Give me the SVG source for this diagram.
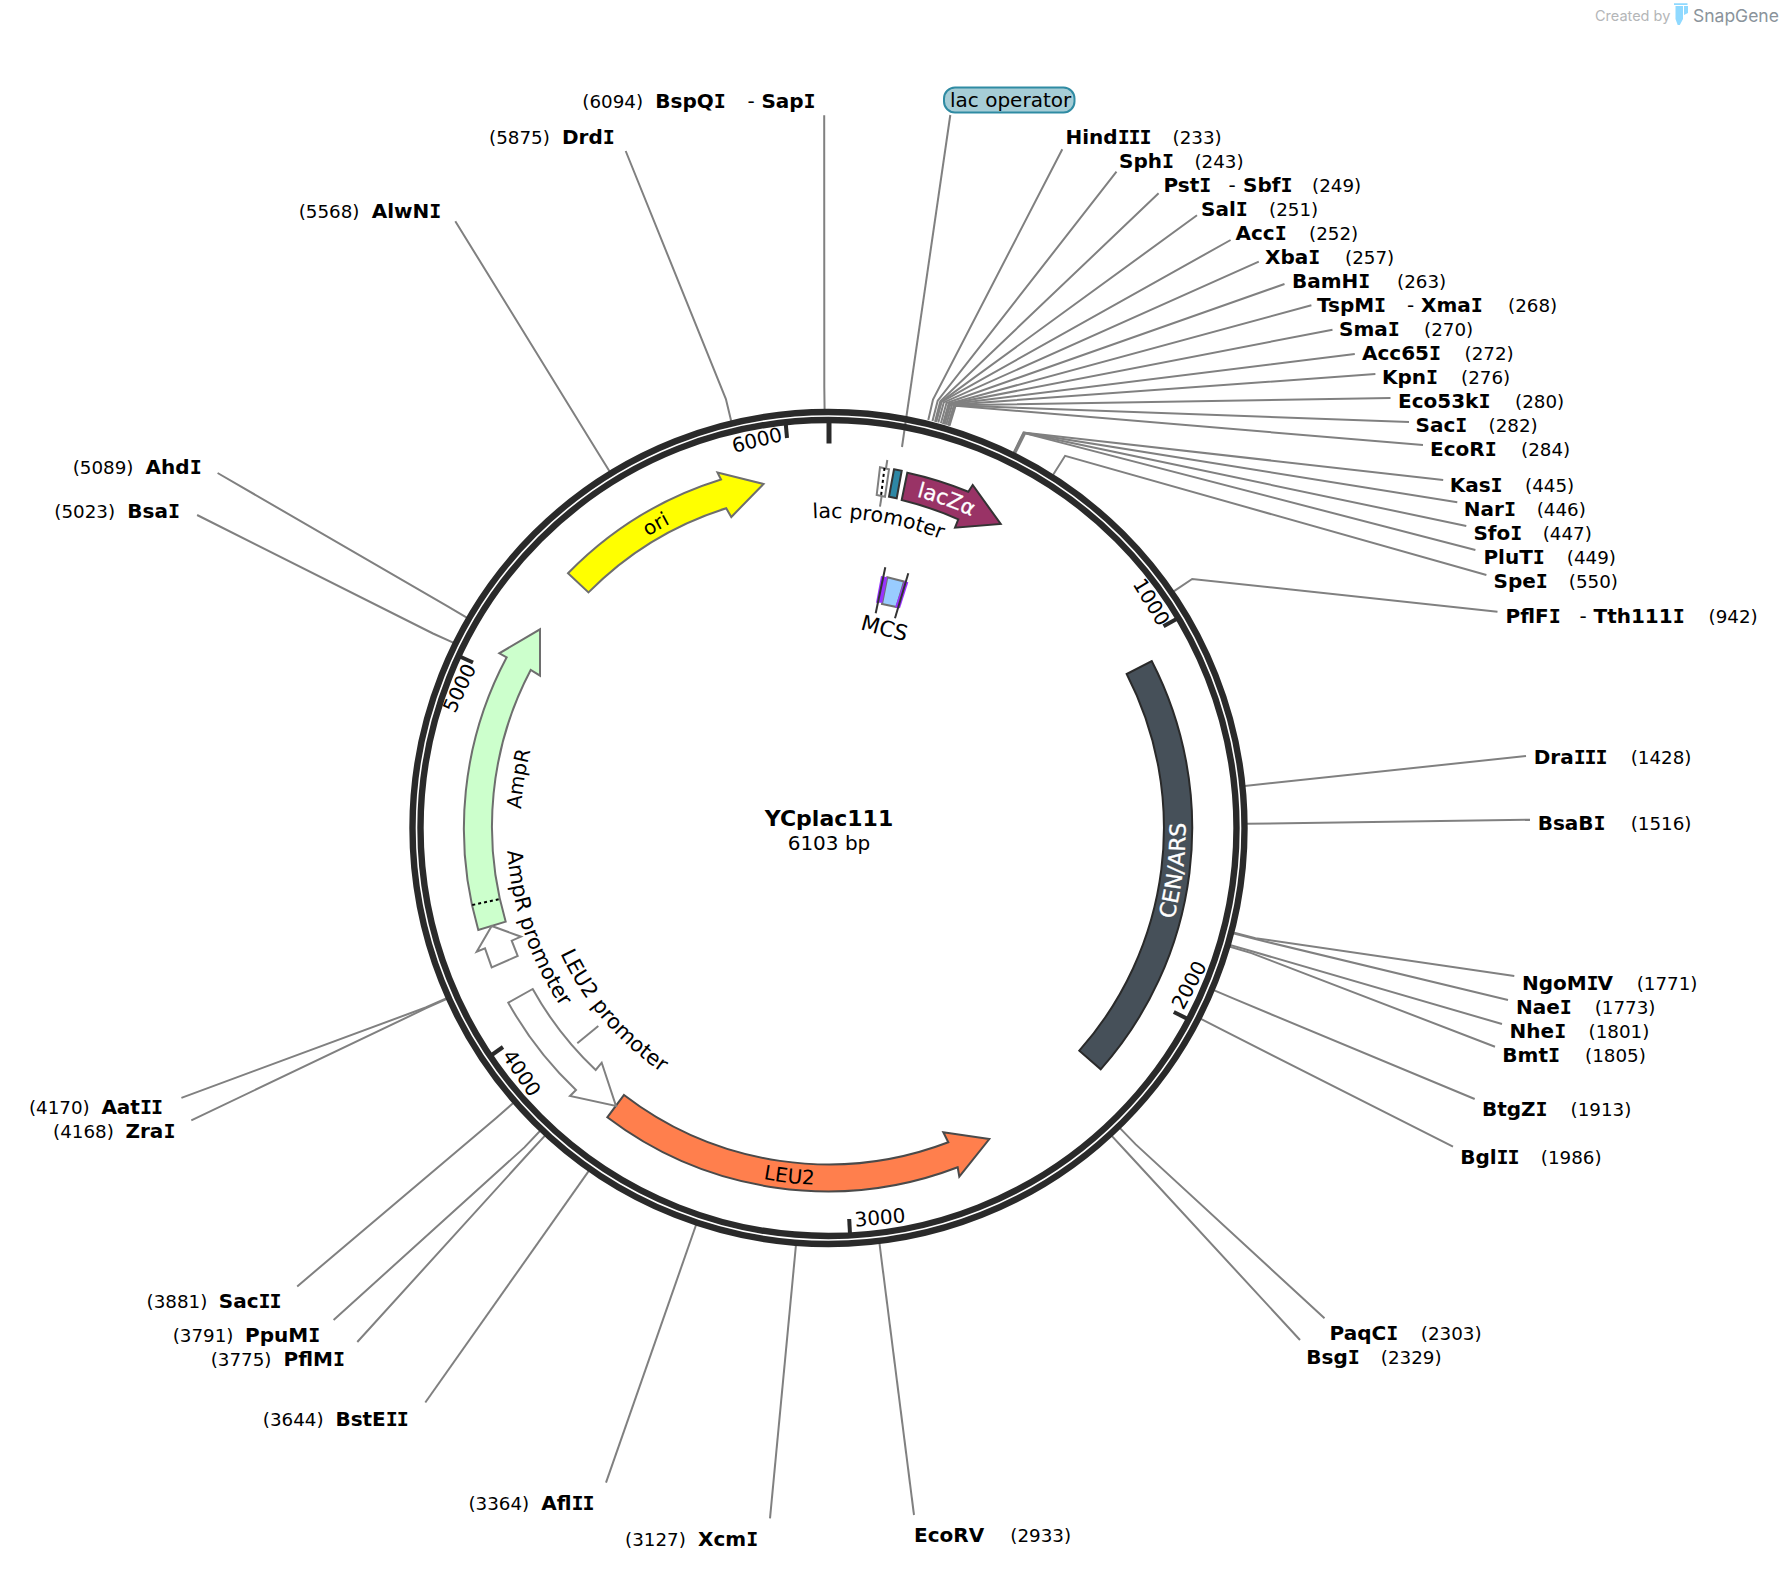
<svg xmlns="http://www.w3.org/2000/svg" width="1788" height="1572" viewBox="0 0 1788 1572">
<style>
text{font-family:"DejaVu Sans",sans-serif;font-size:20px;fill:#000}
.n{font-weight:bold;transform:translateX(-1px)}
.i{font-family:"DejaVu Sans Mono",monospace;font-weight:bold;letter-spacing:-1.1px}
.s{font-size:18.3px}
.c{fill:none;stroke:#808080;stroke-width:2}
.ring{fill:none;stroke:#2a2a2a;stroke-width:6.4}
.tick{stroke:#2a2a2a;stroke-width:4}
.m{text-anchor:middle}
.k{fill:#fff;stroke:#fff;stroke-width:.3px}
</style>
<defs>
<path id="a-lacprom" d="M722.5,536.7A310,310 0 0 1 1027.8,590.5"/>
<path id="a-lacz" d="M828.5,485A343,343 0 0 1 1049,565.3"/>
<path id="a-ori" d="M565.7,607.5A343,343 0 0 1 828.5,485"/>
<path id="a-ampr" d="M539.1,933.3A308,308 0 0 1 592.6,630"/>
<path id="a-ampp" d="M507.7,799.9A322,322 0 0 0 667.5,1106.9"/>
<path id="a-leup" d="M542.6,904.6A296,296 0 0 0 777.1,1119.5"/>
<path id="a-leu" d="M650,1137.2A357,357 0 0 0 1007,1137.2"/>
<path id="a-cen" d="M1102,1057.5A357,357 0 0 0 1102,598.5"/>
</defs>
<rect width="1788" height="1572" fill="#fff"/>
<g id="connectors">
<polyline class="c" points="902,447 950.3,115"/>
<polyline class="c" points="928.3,420 933,399.6 1062.3,149.3"/>
<polyline class="c" points="932.5,421.1 937.7,400.7 1116.5,171.7"/>
<polyline class="c" points="935,421.7 940.3,401.4 1158.6,193.3"/>
<polyline class="c" points="935.8,422 941.2,401.6 1197,215.3"/>
<polyline class="c" points="936.2,422.1 941.6,401.8 1230.6,240"/>
<polyline class="c" points="938.3,422.6 943.8,402.4 1258.8,261.7"/>
<polyline class="c" points="940.9,423.3 946.5,403.1 1284.5,284"/>
<polyline class="c" points="942.9,423.9 948.6,403.7 1311.4,305.3"/>
<polyline class="c" points="943.7,424.1 949.5,403.9 1332.5,329.7"/>
<polyline class="c" points="944.6,424.4 950.4,404.2 1354.8,354"/>
<polyline class="c" points="946.2,424.8 952.1,404.7 1375.4,374"/>
<polyline class="c" points="947.9,425.3 953.9,405.2 1390.5,398"/>
<polyline class="c" points="948.7,425.6 954.8,405.5 1409,422"/>
<polyline class="c" points="949.5,425.8 955.6,405.7 1423,445"/>
<polyline class="c" points="1013.4,453.1 1023.5,432.5 1443.2,480"/>
<polyline class="c" points="1013.8,453.3 1023.9,432.7 1457.3,502.3"/>
<polyline class="c" points="1014.1,453.5 1024.3,432.9 1466.3,526"/>
<polyline class="c" points="1014.9,453.9 1025.2,433.3 1475.4,550"/>
<polyline class="c" points="1052.8,475.2 1065.1,455.8 1486.4,575"/>
<polyline class="c" points="1173.3,591.7 1192.2,579 1497.5,611.7"/>
<polyline class="c" points="1244.5,786 1526,756"/>
<polyline class="c" points="1246.5,823.8 1530,819.7"/>
<polyline class="c" points="1233.3,932.5 1255.5,938.2 1514.3,976"/>
<polyline class="c" points="1233,933.3 1255.3,939.1 1508,1000"/>
<polyline class="c" points="1229.8,944.9 1251.9,951.3 1502,1024"/>
<polyline class="c" points="1229.3,946.5 1251.4,953.1 1495,1046.7"/>
<polyline class="c" points="1213.7,990.2 1234.9,999.2 1474.7,1099"/>
<polyline class="c" points="1200.4,1018.7 1220.9,1029.2 1453,1146.7"/>
<polyline class="c" points="1119.7,1127.9 1135.7,1144.4 1324.5,1318.3"/>
<polyline class="c" points="1111.5,1135.6 1127.1,1152.5 1300,1340"/>
<polyline class="c" points="879.4,1242.9 914,1515"/>
<polyline class="c" points="796,1244.7 770,1518.3"/>
<polyline class="c" points="696.2,1224.5 606,1482.7"/>
<polyline class="c" points="589,1170.6 425.3,1402.5"/>
<polyline class="c" points="545.2,1135.4 529.6,1152.3 357.3,1342"/>
<polyline class="c" points="540.2,1130.7 524.4,1147.4 333.6,1320"/>
<polyline class="c" points="513.5,1102.8 496.2,1117.9 297.2,1286.4"/>
<polyline class="c" points="446.7,998.2 425.7,1007.5 181.4,1097.9"/>
<polyline class="c" points="447,998.8 426.2,1008.2 191.3,1120.4"/>
<polyline class="c" points="453.8,642.8 433,633.5 197.1,515"/>
<polyline class="c" points="467.2,617.8 447.3,606.2 217.6,473"/>
<polyline class="c" points="609.8,471.8 597.7,452.2 455.3,221.2"/>
<polyline class="c" points="731.3,421.4 725.9,399.1 625.7,151"/>
<polyline class="c" points="824.6,410 824.3,387 824.2,115.2"/>
<polyline class="c" points="880,506.7 887.3,460"/>
<polyline class="c" points="577.3,1043.3 598.3,1026"/>
</g>
<g id="backbone">
<circle class="ring" cx="828.5" cy="828" r="416"/>
<circle class="ring" cx="828.5" cy="828" r="408"/>
<line class="tick" x1="829" y1="422" x2="829" y2="443.5" style="stroke-width:5"/>
<line class="tick" x1="1163.5" y1="626.3" x2="1176.5" y2="618.9"/>
<line class="tick" x1="1173.8" y1="1012" x2="1187" y2="1018.6"/>
<line class="tick" x1="849.2" y1="1219" x2="850" y2="1234"/>
<line class="tick" x1="503" y1="1047" x2="491" y2="1055.5"/>
<line class="tick" x1="473" y1="662.5" x2="460.3" y2="656.8"/>
<line class="tick" x1="787" y1="438" x2="785.7" y2="423"/>
<text class="m" x="757" y="447" transform="rotate(-14 757 440)">6000</text>
<text class="m" x="1151.4" y="609" transform="rotate(59 1151.4 602)">1000</text>
<text class="m" x="1189" y="992" transform="rotate(-62 1189 985)">2000</text>
<text class="m" x="880" y="1224.5" transform="rotate(-5 880 1217.5)">3000</text>
<text class="m" x="521.7" y="1080" transform="rotate(56 521.7 1073)">4000</text>
<text class="m" x="459.5" y="695" transform="rotate(-65 459.5 688)">5000</text>
</g>
<g id="feature-ori">
<path d="M568,573.3A364,364 0 0 1 721,479.5L717.5,472.6L763.5,484L731.3,517L726.2,508.2A336,336 0 0 0 588.5,592.4Z" fill="#ffff00" stroke="#6e6e6e" stroke-width="2"/>
<text class="m"><textPath href="#a-ori" startOffset="122">ori</textPath></text>
</g>
<g id="feature-lacZ">
<path d="M907.3,472.7A364,364 0 0 1 968.3,491.7L972.7,485L1000.7,524L955,527.7L958.3,519.3A336,336 0 0 0 901.7,500Z" fill="#993366" stroke="#333" stroke-width="2"/>
<text class="k" style="font-size:21px"><textPath href="#a-lacz" startOffset="89">lacZα</textPath></text>
</g>
<g id="feature-lac-promoter">
<path d="M880,467.3L889,469.3L885,496.7L876.7,495Z" fill="#fff" stroke="#808080" stroke-width="2"/>
<line x1="884.5" y1="468" x2="881" y2="496" stroke="#000" stroke-width="2" stroke-dasharray="3 3"/>
<text style="font-size:20.5px"><textPath href="#a-lacprom" startOffset="92.5">lac promoter</textPath></text>
</g>
<g id="feature-lac-operator">
<path d="M894,469.3L901.7,470.7L896.7,498.3L889,496.7Z" fill="#2d87a5" stroke="#333" stroke-width="2"/>
<rect x="944" y="87.5" width="130.5" height="25" rx="11" fill="#a6cdd6" stroke="#2f8ba3" stroke-width="2"/>
<text x="950" y="107">lac operator</text>
</g>
<g id="feature-MCS">
<path d="M887.3,577.3L904,581.5L896.5,607L882,604Z" fill="#99ccff" stroke="#707070" stroke-width="2"/>
<path d="M881,576L887.3,577.3L882.3,602.7L876,602.7Z" fill="#9933ff"/>
<path d="M904.3,581L908.3,582.3L900,608.3L895,607.3Z" fill="#9933ff"/>
<line x1="885.3" y1="567.3" x2="875.7" y2="613.3" stroke="#333" stroke-width="2"/>
<line x1="908.3" y1="573.3" x2="895" y2="618.3" stroke="#333" stroke-width="2"/>
<text class="m" x="884.5" y="635.5" transform="rotate(15 884.5 628)" style="font-size:21.5px">MCS</text>
</g>
<g id="feature-CEN-ARS">
<path d="M1151.7,661A364,364 0 0 1 1100.7,1069.3L1079.3,1050.7A336,336 0 0 0 1126.7,674Z" fill="#465059" stroke="#2a2a2a" stroke-width="2"/>
<text class="m k" style="font-size:22px"><textPath href="#a-cen" startOffset="205.6">CEN/ARS</textPath></text>
</g>
<g id="feature-LEU2">
<path d="M607.3,1117.3A364,364 0 0 0 957.7,1167.3L959.3,1176.7L989.3,1139L943.3,1132.3L948.3,1142.3A336,336 0 0 1 624,1095Z" fill="#ff7f4d" stroke="#4a4a4a" stroke-width="2"/>
<text class="m"><textPath href="#a-leu" startOffset="147">LEU2</textPath></text>
</g>
<g id="feature-LEU2-promoter">
<path d="M508.3,1002.7A364,364 0 0 0 576,1090L570,1096L616,1106L601.7,1062.7L595.7,1070A336,336 0 0 1 532.7,989Z" fill="#fff" stroke="#808080" stroke-width="2"/>
<text style="font-size:21px"><textPath href="#a-leup" startOffset="52">LEU2 promoter</textPath></text>
</g>
<g id="feature-AmpR">
<path d="M478.3,930A364,364 0 0 1 506.7,657.3L499.3,653.3L540,629.3L540,675.7L530.7,670A336,336 0 0 0 505.7,921.7Z" fill="#ccffcc" stroke="#6e6e6e" stroke-width="2"/>
<line x1="472.3" y1="905" x2="500" y2="899" stroke="#000" stroke-width="2" stroke-dasharray="3 3"/>
<text class="m"><textPath href="#a-ampr" startOffset="156">AmpR</textPath></text>
</g>
<g id="feature-AmpR-promoter">
<path d="M491.7,926L521,936.7L511.7,940.7L517.7,956L491.7,967.3L485,948.3L476.7,951.7Z" fill="#fff" stroke="#808080" stroke-width="2"/>
<text style="font-size:21px"><textPath href="#a-ampp" startOffset="51">AmpR promoter</textPath></text>
</g>
<g id="title">
<text class="n m" x="829" y="826" style="font-size:22px;transform:none">YCplac111</text>
<text class="m" x="829" y="850">6103 bp</text>
</g>
<g id="site-HindIII"><text class="n" x="1066.5" y="144">Hind<tspan class="i">III</tspan></text><text class="s" x="1172.5" y="144">(233)</text></g>
<g id="site-SphI"><text class="n" x="1120" y="168">Sph<tspan class="i">I</tspan></text><text class="s" x="1194.4" y="168">(243)</text></g>
<g id="site-PstI-SbfI"><text class="n" x="1164.5" y="192">Pst<tspan class="i">I</tspan></text><text x="1228.5" y="192">-</text><text class="n" x="1244" y="192">Sbf<tspan class="i">I</tspan></text><text class="s" x="1312" y="192">(249)</text></g>
<g id="site-SalI"><text class="n" x="1202" y="216">Sal<tspan class="i">I</tspan></text><text class="s" x="1269" y="216">(251)</text></g>
<g id="site-AccI"><text class="n" x="1236.5" y="240">Acc<tspan class="i">I</tspan></text><text class="s" x="1309" y="240">(252)</text></g>
<g id="site-XbaI"><text class="n" x="1266" y="264">Xba<tspan class="i">I</tspan></text><text class="s" x="1345" y="264">(257)</text></g>
<g id="site-BamHI"><text class="n" x="1293" y="288">BamH<tspan class="i">I</tspan></text><text class="s" x="1397" y="288">(263)</text></g>
<g id="site-TspMI-XmaI"><text class="n" x="1318" y="312">TspM<tspan class="i">I</tspan></text><text x="1407" y="312">-</text><text class="n" x="1422" y="312">Xma<tspan class="i">I</tspan></text><text class="s" x="1508" y="312">(268)</text></g>
<g id="site-SmaI"><text class="n" x="1340" y="336">Sma<tspan class="i">I</tspan></text><text class="s" x="1424" y="336">(270)</text></g>
<g id="site-Acc65I"><text class="n" x="1363" y="360">Acc65<tspan class="i">I</tspan></text><text class="s" x="1464.6" y="360">(272)</text></g>
<g id="site-KpnI"><text class="n" x="1383" y="384">Kpn<tspan class="i">I</tspan></text><text class="s" x="1461" y="384">(276)</text></g>
<g id="site-Eco53kI"><text class="n" x="1399" y="408">Eco53k<tspan class="i">I</tspan></text><text class="s" x="1515" y="408">(280)</text></g>
<g id="site-SacI"><text class="n" x="1416.6" y="432">Sac<tspan class="i">I</tspan></text><text class="s" x="1488.6" y="432">(282)</text></g>
<g id="site-EcoRI"><text class="n" x="1431" y="456">EcoR<tspan class="i">I</tspan></text><text class="s" x="1521" y="456">(284)</text></g>
<g id="site-KasI"><text class="n" x="1450.7" y="492">Kas<tspan class="i">I</tspan></text><text class="s" x="1525" y="492">(445)</text></g>
<g id="site-NarI"><text class="n" x="1464.8" y="516">Nar<tspan class="i">I</tspan></text><text class="s" x="1536.7" y="516">(446)</text></g>
<g id="site-SfoI"><text class="n" x="1474.4" y="540">Sfo<tspan class="i">I</tspan></text><text class="s" x="1542.7" y="540">(447)</text></g>
<g id="site-PluTI"><text class="n" x="1484.4" y="564">PluT<tspan class="i">I</tspan></text><text class="s" x="1566.8" y="564">(449)</text></g>
<g id="site-SpeI"><text class="n" x="1494.5" y="588">Spe<tspan class="i">I</tspan></text><text class="s" x="1568.8" y="588">(550)</text></g>
<g id="site-PflFI-Tth111I"><text class="n" x="1506.5" y="623">PflF<tspan class="i">I</tspan></text><text x="1579.4" y="623">-</text><text class="n" x="1594.5" y="623">Tth111<tspan class="i">I</tspan></text><text class="s" x="1708.5" y="623">(942)</text></g>
<g id="site-DraIII"><text class="n" x="1534.7" y="764">Dra<tspan class="i">III</tspan></text><text class="s" x="1630.7" y="764">(1428)</text></g>
<g id="site-BsaBI"><text class="n" x="1538.7" y="830">BsaB<tspan class="i">I</tspan></text><text class="s" x="1630.7" y="830">(1516)</text></g>
<g id="site-NgoMIV"><text class="n" x="1522.9" y="990">NgoM<tspan class="i">I</tspan>V</text><text class="s" x="1636.7" y="990">(1771)</text></g>
<g id="site-NaeI"><text class="n" x="1517" y="1014">Nae<tspan class="i">I</tspan></text><text class="s" x="1594.7" y="1014">(1773)</text></g>
<g id="site-NheI"><text class="n" x="1510.6" y="1038">Nhe<tspan class="i">I</tspan></text><text class="s" x="1588.6" y="1038">(1801)</text></g>
<g id="site-BmtI"><text class="n" x="1503.3" y="1062">Bmt<tspan class="i">I</tspan></text><text class="s" x="1585" y="1062">(1805)</text></g>
<g id="site-BtgZI"><text class="n" x="1482.9" y="1116">BtgZ<tspan class="i">I</tspan></text><text class="s" x="1570.6" y="1116">(1913)</text></g>
<g id="site-BglII"><text class="n" x="1461.2" y="1164">Bgl<tspan class="i">II</tspan></text><text class="s" x="1540.8" y="1164">(1986)</text></g>
<g id="site-PaqCI"><text class="n" x="1330.6" y="1340">PaqC<tspan class="i">I</tspan></text><text class="s" x="1420.8" y="1340">(2303)</text></g>
<g id="site-BsgI"><text class="n" x="1307.3" y="1364">Bsg<tspan class="i">I</tspan></text><text class="s" x="1380.8" y="1364">(2329)</text></g>
<g id="site-EcoRV"><text class="n" x="915" y="1542">EcoRV</text><text class="s" x="1010.3" y="1542">(2933)</text></g>
<g id="site-XcmI"><text class="n" x="699" y="1546">Xcm<tspan class="i">I</tspan></text><text class="s" x="625" y="1546">(3127)</text></g>
<g id="site-AflII"><text class="n" x="542.3" y="1510">Afl<tspan class="i">II</tspan></text><text class="s" x="468.4" y="1510">(3364)</text></g>
<g id="site-BstEII"><text class="n" x="336.4" y="1426">BstE<tspan class="i">II</tspan></text><text class="s" x="262.8" y="1426">(3644)</text></g>
<g id="site-PflMI"><text class="n" x="284.6" y="1366">PflM<tspan class="i">I</tspan></text><text class="s" x="210.7" y="1366">(3775)</text></g>
<g id="site-PpuMI"><text class="n" x="246" y="1342">PpuM<tspan class="i">I</tspan></text><text class="s" x="172.7" y="1342">(3791)</text></g>
<g id="site-SacII"><text class="n" x="219.8" y="1308">Sac<tspan class="i">II</tspan></text><text class="s" x="146.6" y="1308">(3881)</text></g>
<g id="site-ZraI"><text class="n" x="126.5" y="1138">Zra<tspan class="i">I</tspan></text><text class="s" x="53" y="1138">(4168)</text></g>
<g id="site-AatII"><text class="n" x="102.4" y="1114">Aat<tspan class="i">II</tspan></text><text class="s" x="28.9" y="1114">(4170)</text></g>
<g id="site-BsaI"><text class="n" x="128.3" y="518">Bsa<tspan class="i">I</tspan></text><text class="s" x="54.3" y="518">(5023)</text></g>
<g id="site-AhdI"><text class="n" x="146.6" y="474">Ahd<tspan class="i">I</tspan></text><text class="s" x="72.7" y="474">(5089)</text></g>
<g id="site-AlwNI"><text class="n" x="372.7" y="218">AlwN<tspan class="i">I</tspan></text><text class="s" x="298.7" y="218">(5568)</text></g>
<g id="site-DrdI"><text class="n" x="563" y="144">Drd<tspan class="i">I</tspan></text><text class="s" x="489" y="144">(5875)</text></g>
<g id="site-BspQI-SapI"><text class="n" x="656.3" y="108">BspQ<tspan class="i">I</tspan></text><text x="747.6" y="108">-</text><text class="n" x="762.4" y="108">Sap<tspan class="i">I</tspan></text><text class="s" x="582.3" y="108">(6094)</text></g>
<g id="credit">
<text x="1595" y="21" style="font-family:Inter,sans-serif;font-size:14.5px;fill:#b4b6b8">Created by</text>
<path d="M1674,3.3H1687.5V5H1674ZM1675.5,6H1683V19L1679.8,25H1677.7L1675.5,19ZM1684,6H1688V13L1684,15Z" fill="#8fd9ff"/>
<text x="1693" y="21.5" style="font-family:Inter,sans-serif;font-size:17.5px;fill:#8a939b">SnapGene</text>
</g>
</svg>
